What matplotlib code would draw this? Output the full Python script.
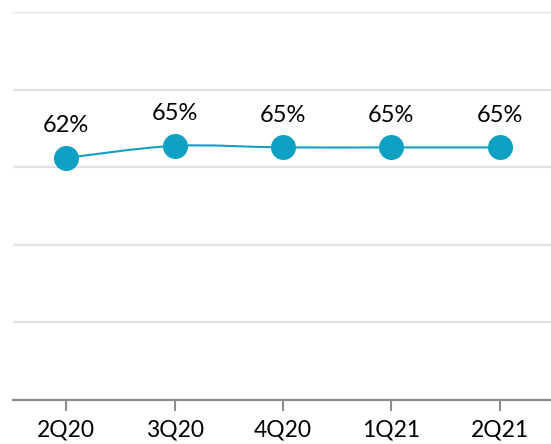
import matplotlib
matplotlib.use("Agg")
from matplotlib import pyplot as plt
from matplotlib.path import Path
from matplotlib.patches import PathPatch
import numpy as np

quarters = ["2Q20", "3Q20", "4Q20", "1Q21", "2Q21"]
values = [62.4, 65.5, 65.1, 65.1, 65.1]
labels = ["62%", "65%", "65%", "65%", "65%"]

blue = "#0fa0c4"
grid_grey = "#e2e2e2"
axis_grey = "#8c8c8c"

plt.rcParams["font.family"] = ["Lato", "DejaVu Sans"]

fig = plt.figure(figsize=(5.51, 4.44), dpi=100)
ax = fig.add_axes([13 / 551, 44 / 444, 540 / 551, 388 / 444])

x = np.arange(len(quarters))
y = np.array(values)

# smooth line like excel, bezier through the points
verts = [(x[0], y[0])]
codes = [Path.MOVETO]
t = 1 / 6
for i in range(len(x) - 1):
    p0 = (x[i - 1], y[i - 1]) if i > 0 else (x[i], y[i])
    p3 = (x[i + 2], y[i + 2]) if i + 2 < len(x) else (x[i + 1], y[i + 1])
    c1 = (x[i] + (x[i + 1] - p0[0]) * t, y[i] + (y[i + 1] - p0[1]) * t)
    c2 = (x[i + 1] - (p3[0] - x[i]) * t, y[i + 1] - (p3[1] - y[i]) * t)
    verts += [c1, c2, (x[i + 1], y[i + 1])]
    codes += [Path.CURVE4, Path.CURVE4, Path.CURVE4]
ax.add_patch(PathPatch(Path(verts, codes), facecolor="none", edgecolor=blue, lw=1.5, zorder=3))

ax.plot(x, y, "o", color=blue, markersize=17, zorder=4, clip_on=False)

for xi, yi, lab in zip(x, y, labels):
    ax.annotate(lab, (xi, yi), xytext=(0, 23), textcoords="offset points",
                ha="center", va="center", fontsize=17, color="#000000")

ax.set_xlim(-0.49, 4.49)
ax.set_ylim(0, 100)
ax.set_yticks(np.arange(0, 101, 20))
ax.yaxis.grid(True, color=grid_grey, lw=1.6)
ax.set_axisbelow(True)
ax.tick_params(axis="y", left=False, labelleft=False)

ax.set_xticks(x)
ax.set_xticklabels(quarters, fontsize=16.5, color="#000000")
ax.tick_params(axis="x", length=8, width=1.5, color=axis_grey, pad=6)

for s in ["top", "left", "right"]:
    ax.spines[s].set_visible(False)
ax.spines["bottom"].set_color(axis_grey)
ax.spines["bottom"].set_linewidth(1.6)

fig.savefig("out.png", dpi=100)
